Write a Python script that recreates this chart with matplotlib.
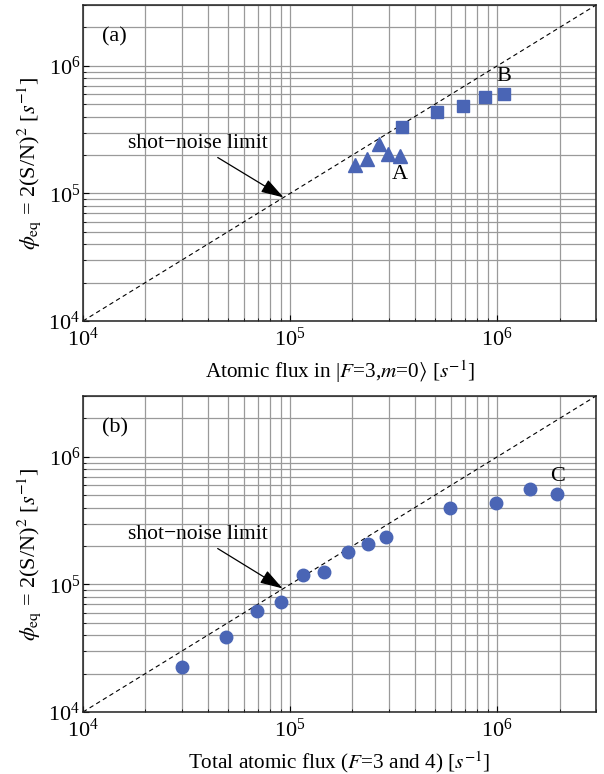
import numpy as np
import matplotlib
matplotlib.use("Agg")
import matplotlib.pyplot as plt

# =========================
# DATA
# =========================

# panel (a): atomic flux in |F=3,m=0>  vs  phi_eq
tri_x = [2.06e5, 2.35e5, 2.69e5, 2.97e5, 3.39e5]
tri_y = [1.68e5, 1.85e5, 2.44e5, 2.03e5, 1.97e5]
sq_x = [3.47e5, 5.13e5, 6.85e5, 8.75e5, 1.08e6]
sq_y = [3.34e5, 4.34e5, 4.83e5, 5.71e5, 6.03e5]

# panel (b): total atomic flux (F=3 and 4)  vs  phi_eq
circ_x = [3.0e4, 4.9e4, 6.9e4, 9.0e4, 1.16e5, 1.46e5, 1.91e5, 2.38e5, 2.90e5,
          5.93e5, 9.86e5, 1.44e6, 1.95e6]
circ_y = [2.27e4, 3.85e4, 6.24e4, 7.24e4, 1.19e5, 1.25e5, 1.80e5, 2.08e5, 2.35e5,
          3.96e5, 4.31e5, 5.61e5, 5.09e5]

LIMITS = (1e4, 3e6)
MARKER_COLOR = "#4a65b5"

plt.rcParams["font.family"] = "serif"
plt.rcParams["font.serif"] = ["Liberation Serif", "DejaVu Serif"]
plt.rcParams["mathtext.fontset"] = "stix"

YLABEL = r"$\phi_{\rm eq}$ = 2(S/N)$^2$ [$s^{-1}$]"


def style_axes(ax, xlabel):
    ax.set_xscale("log")
    ax.set_yscale("log")
    ax.set_xlim(*LIMITS)
    ax.set_ylim(*LIMITS)
    ax.grid(True, which="both", color="#9a9a9a", lw=0.9)
    ax.set_axisbelow(True)
    ax.tick_params(which="both", direction="in", top=False, right=False, labelsize=16)
    ax.tick_params(axis="x", pad=5)
    ax.tick_params(axis="y", pad=2)
    ax.tick_params(which="major", length=4)
    ax.tick_params(which="minor", length=2.5)
    for s in ax.spines.values():
        s.set_linewidth(1.1)
        s.set_color("#222222")
    ax.set_xlabel(xlabel, fontsize=15.3, labelpad=5)
    ax.set_ylabel(YLABEL, fontsize=16, labelpad=4)
    # shot-noise limit line
    ax.plot(LIMITS, LIMITS, ls=(0, (4, 3)), color="black", lw=0.8, zorder=2)


def shot_noise(ax, tip, text_pos):
    ax.annotate("shot\u2212noise limit", xy=tip, xytext=text_pos,
                ha="center", va="center", fontsize=15.5,
                arrowprops=dict(arrowstyle="-|>,head_length=0.9,head_width=0.28",
                                color="black", lw=0.9, shrinkA=2, shrinkB=0,
                                relpos=(0.59, 0.0)))


fig = plt.figure(figsize=(6.04, 7.74), dpi=100)
ax_a = fig.add_axes([0.1374, 0.5853, 0.8494, 0.4082])
ax_b = fig.add_axes([0.1374, 0.0801, 0.8494, 0.4083])

# ---- panel (a)
style_axes(ax_a, r"Atomic flux in |$F$=3,$m$=0$\rangle$ [$s^{-1}$]")
ax_a.plot(tri_x, tri_y, ls="none", marker="^", ms=10, color=MARKER_COLOR, zorder=3)
ax_a.plot(sq_x, sq_y, ls="none", marker="s", ms=9, color=MARKER_COLOR, zorder=3)
ax_a.text(0.062, 0.899, "(a)", transform=ax_a.transAxes, ha="center", va="center", fontsize=16)
ax_a.text(3.4e5, 1.40e5, "A", ha="center", va="center", fontsize=16)
ax_a.text(1.08e6, 8.24e5, "B", ha="center", va="center", fontsize=16)
shot_noise(ax_a, (9.3e4, 9.3e4), (3.6e4, 2.45e5))

# ---- panel (b)
style_axes(ax_b, r"Total atomic flux ($F$=3 and 4) [$s^{-1}$]")
ax_b.plot(circ_x, circ_y, ls="none", marker="o", ms=9, color=MARKER_COLOR, zorder=3)
ax_b.text(0.062, 0.899, "(b)", transform=ax_b.transAxes, ha="center", va="center", fontsize=16)
ax_b.text(1.96e6, 7.0e5, "C", ha="center", va="center", fontsize=16)
shot_noise(ax_b, (9.2e4, 9.3e4), (3.6e4, 2.45e5))

fig.savefig("out.png", dpi=100)
